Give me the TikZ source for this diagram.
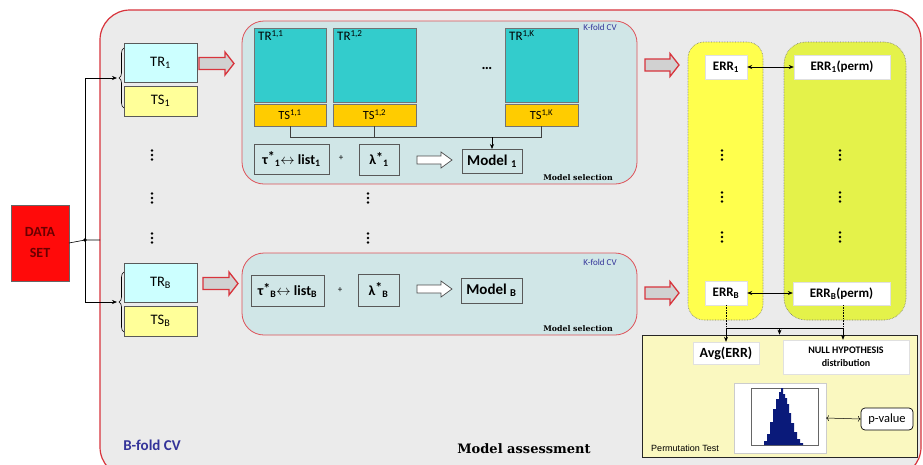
\documentclass[tikz,border=0pt]{standalone}
\usepackage{fontspec}
\setmainfont{Carlito}
\newfontfamily\slabfont{DejaVu Serif}
\newfontfamily\arialfont{Liberation Sans}
\usetikzlibrary{arrows.meta,decorations.pathreplacing,calc}
\definecolor{framered}{HTML}{D8343C}
\definecolor{framebg}{HTML}{EBEBEB}
\definecolor{kbg}{HTML}{D0E6E7}
\definecolor{tealbox}{HTML}{33CCCC}
\definecolor{goldbox}{HTML}{FFCC00}
\definecolor{trc}{HTML}{CCFFFF}
\definecolor{tsc}{HTML}{FFFF99}
\definecolor{ycolc}{HTML}{FFFF4D}
\definecolor{gcolc}{HTML}{E4F24A}
\definecolor{permbg}{HTML}{FAF8C0}
\definecolor{navyt}{HTML}{333399}
\definecolor{histblue}{HTML}{0A1A7A}
\definecolor{dsred}{HTML}{FF0A0A}
\definecolor{dstext}{HTML}{6A0000}
% hollow block arrow: style, x0, cy, total length, head length, body half, head half
\newcommand\blockarrow[7]{%
  \draw[#1] ({#2},{#3-#6}) -- ({#2+#4-#5},{#3-#6}) -- ({#2+#4-#5},{#3-#7})
    -- ({#2+#4},{#3}) -- ({#2+#4-#5},{#3+#7}) -- ({#2+#4-#5},{#3+#6})
    -- ({#2},{#3+#6}) -- cycle;}
\newcommand\dotcol[2]{%
  \fill ({#1},{#2-4.5}) circle (1.4);
  \fill ({#1},{#2}) circle (1.4);
  \fill ({#1},{#2+4.5}) circle (1.4);}
\newcommand\strs{\raisebox{2.5pt}{*}}
\begin{document}
\begin{tikzpicture}[x=1pt,y=-1pt,
  sbox/.style={draw=black!65, line width=0.7pt, inner sep=0pt, outer sep=0pt},
  wbox/.style={fill=white, draw=black!12, line width=0.4pt, inner sep=0pt},
  kbox/.style={draw=framered!85, line width=0.8pt, fill=kbg, rounded corners=22pt, inner sep=0pt},
  colbox/.style={draw=black!55, densely dotted, line width=0.6pt, rounded corners=16pt, inner sep=0pt},
  arr/.style={-{Stealth[length=5pt,width=4pt]}, line width=0.6pt},
  darr/.style={{Stealth[length=5pt,width=4pt]}-{Stealth[length=5pt,width=4pt]}, line width=0.6pt},
  redarrow/.style={draw=framered, line width=1.3pt, fill=black!18},
  whitearrow/.style={draw=black!70, line width=0.7pt, fill=white},
  bigtxt/.style={font=\bfseries\fontsize{14}{14}\selectfont},
  toplbl/.style={anchor=north west, inner sep=1pt, font=\fontsize{13}{13}\selectfont},
  tstxt/.style={font=\fontsize{12.5}{12.5}\selectfont},
]
\useasboundingbox (0,0) rectangle (923,464);
\fill[white] (0,0) rectangle (923,464);
\begin{scope}
  \clip (0,0) rectangle (923,464);
  \draw[draw=framered, line width=1.2pt, fill=framebg, rounded corners=30pt] (100,10) rectangle (921,477);
\end{scope}

% data set and split
\node[sbox, fill=dsred, draw=black!60, minimum width=58, minimum height=76,
      font=\bfseries\fontsize{14}{21}\selectfont, text=dstext, align=center] (data) at (40,243) {DATA\\SET};
\coordinate (jn) at (85,240);
\coordinate (fw) at (100,240);
\coordinate (b1) at (117,78);
\coordinate (bB) at (117,302);
\draw[line width=0.6pt] (data.east) -- (jn) -- (fw);
\fill (jn) circle (1.8);
\draw[arr] (jn) |- (b1);
\draw[arr] (jn) |- (bB);
\draw[line width=0.6pt, decorate, decoration={brace, amplitude=5pt}] (124,108) -- (124,48);
\draw[line width=0.6pt, decorate, decoration={brace, amplitude=5pt}] (124,332) -- (124,272);

\node[sbox, fill=trc, minimum width=73, minimum height=39, font=\fontsize{14.5}{14}\selectfont] (tr1) at (160.5,62.5) {TR\textsubscript{1}};
\node[sbox, fill=tsc, minimum width=73, minimum height=30, font=\fontsize{14.5}{14}\selectfont] (ts1) at (160.5,101) {TS\textsubscript{1}};
\node[sbox, fill=trc, minimum width=73, minimum height=39, font=\fontsize{14.5}{14}\selectfont] (trB) at (160.5,282.5) {TR\textsubscript{B}};
\node[sbox, fill=tsc, minimum width=73, minimum height=30, font=\fontsize{14.5}{14}\selectfont] (tsB) at (160.5,321) {TS\textsubscript{B}};

\dotcol{152}{155}
\dotcol{152}{198}
\dotcol{152}{238}
\dotcol{368}{198}
\dotcol{368}{238}

% red block arrows
\blockarrow{redarrow}{199}{63.5}{35}{9}{6}{11.5}
\blockarrow{redarrow}{203}{283.5}{35}{9}{6}{11.5}
\blockarrow{redarrow}{645}{65}{34}{9}{6}{11.5}
\blockarrow{redarrow}{645}{293}{34}{9}{6}{11.5}

% top K-fold box
\node[kbox, minimum width=395, minimum height=163] (k1) at (439.5,102.5) {};
\node[font=\fontsize{9}{9}\selectfont, text=navyt, inner sep=0pt] (kl1) at (600,27) {K-fold CV};
\node[font=\slabfont\bfseries\fontsize{7.8}{8}\selectfont, inner sep=0pt] (ms1) at (578,178) {Model selection};

\node[sbox, draw=black!55, fill=tealbox, minimum width=72, minimum height=74] (tr11) at (290,65) {};
\node[sbox, draw=black!55, fill=tealbox, minimum width=83, minimum height=74] (tr12) at (374.5,65) {};
\node[sbox, draw=black!55, fill=tealbox, minimum width=73, minimum height=74] (tr1K) at (541.5,65) {};
\node[toplbl] at ([shift={(3,1)}]tr11.north west) {TR\textsuperscript{1,1}};
\node[toplbl] at ([shift={(3,1)}]tr12.north west) {TR\textsuperscript{1,2}};
\node[toplbl] at ([shift={(3,1)}]tr1K.north west) {TR\textsuperscript{1,K}};
\node[font=\bfseries\fontsize{15}{15}\selectfont, inner sep=0pt] (ell) at (487,68) {…};
\node[sbox, draw=black!55, fill=goldbox, minimum width=72, minimum height=22, tstxt] (ts11) at (290,115) {TS\textsuperscript{1,1}};
\node[sbox, draw=black!55, fill=goldbox, minimum width=83, minimum height=22, tstxt] (ts12) at (374.5,115) {TS\textsuperscript{1,2}};
\node[sbox, draw=black!55, fill=goldbox, minimum width=73, minimum height=22, tstxt] (ts1K) at (541.5,115) {TS\textsuperscript{1,K}};

\node[sbox, fill=kbg, minimum width=75, minimum height=30, bigtxt] (tau1) at (291.5,159) {τ\strs\textsubscript{1}$\leftrightarrow$ list\textsubscript{1}};
\node[font=\fontsize{9}{9}\selectfont, inner sep=0pt] (pl1) at (341,158) {+};
\node[sbox, fill=kbg, minimum width=40, minimum height=31, bigtxt] (lam1) at (379,159.5) {λ\strs\textsubscript{1}};
\blockarrow{whitearrow}{417}{160}{35}{11}{4}{8}
\node[sbox, fill=kbg, minimum width=60, minimum height=24, font=\bfseries\fontsize{15}{15}\selectfont] (m1) at (492,161) {Model \textsubscript{1}};

\coordinate (bus) at (0,137);
\draw[line width=0.6pt, black!75] (ts11.south) |- (ts1K.south |- bus) -- (ts1K.south);
\draw[line width=0.6pt, black!75] (ts12.south) -- (ts12.south |- bus);
\draw[arr] (m1.north |- bus) -- (m1.north);

% bottom K-fold box
\node[kbox, minimum width=395, minimum height=82] (kB) at (439.5,294) {};
\node[font=\fontsize{9}{9}\selectfont, text=navyt, inner sep=0pt] (klB) at (600,262) {K-fold CV};
\node[font=\slabfont\bfseries\fontsize{7.8}{8}\selectfont, inner sep=0pt] (msB) at (578,329) {Model selection};
\node[sbox, fill=kbg, minimum width=73, minimum height=31, bigtxt] (tauB) at (287.5,290.5) {τ\strs\textsubscript{B}$\leftrightarrow$ list\textsubscript{B}};
\node[font=\fontsize{9}{9}\selectfont, inner sep=0pt] (plB) at (340,290) {+};
\node[sbox, fill=kbg, minimum width=41, minimum height=32, bigtxt] (lamB) at (378.5,290) {λ\strs\textsubscript{B}};
\blockarrow{whitearrow}{417}{289}{35}{11}{4}{8}
\node[sbox, fill=kbg, minimum width=61, minimum height=25, font=\bfseries\fontsize{15}{15}\selectfont] (mB) at (491.5,290.5) {Model \textsubscript{B}};

% error columns
\node[colbox, fill=ycolc, minimum width=75, minimum height=278] (yc) at (725.5,181) {};
\node[colbox, fill=gcolc, minimum width=122, minimum height=278, rounded corners=22pt] (gc) at (845,181) {};
\node[wbox, minimum width=42, minimum height=24, font=\bfseries\fontsize{13}{13}\selectfont] (e1) at (726,67) {ERR\textsubscript{1}};
\node[wbox, minimum width=96, minimum height=24, font=\bfseries\fontsize{13}{13}\selectfont] (e1p) at (842,67) {ERR\textsubscript{1}(perm)};
\node[wbox, minimum width=42, minimum height=24, font=\bfseries\fontsize{13}{13}\selectfont] (eB) at (726,293) {ERR\textsubscript{B}};
\node[wbox, minimum width=97, minimum height=23, font=\bfseries\fontsize{13}{13}\selectfont] (eBp) at (841.5,293.5) {ERR\textsubscript{B}(perm)};
\draw[darr] (e1.east) -- (e1p.west);
\draw[darr] (eB.east) -- (eBp.west |- eB.east);
\dotcol{722}{155}
\dotcol{722}{197}
\dotcol{722}{237}
\dotcol{840}{155}
\dotcol{840}{197}
\dotcol{840}{237}

% permutation test
\node[draw=black!85, line width=0.8pt, fill=permbg, minimum width=275, minimum height=122, inner sep=0pt] (pt) at (779.5,396) {};
\node[wbox, minimum width=66, minimum height=22, font=\bfseries\fontsize{14}{14}\selectfont] (avg) at (726,353) {Avg(ERR)};
\node[wbox, minimum width=126, minimum height=34, align=center, font=\bfseries\fontsize{10}{13}\selectfont] (null) at (846,357) {NULL HYPOTHESIS\\distribution};
\coordinate (ebus) at (0,328);
\draw[densely dotted, line width=0.6pt] (eB.south) -- (eB.south |- ebus);
\draw[densely dotted, line width=0.6pt] ([xshift=1.5pt]eBp.south) -- ([xshift=1.5pt]eBp.south |- ebus);
\draw[line width=0.9pt] (eB.south |- ebus) -- ([xshift=1.5pt]eBp.south |- ebus);
\draw[arr] (eB.south |- ebus) -- (avg.north);
\draw[arr] ([xshift=1.5pt]eBp.south |- ebus) -- ([xshift=1.5pt]eBp.south |- null.north);
\draw[arr] (pt.north |- ebus) -- (pt.north);

\node[fill=white, draw=black!20, line width=0.4pt, minimum width=92, minimum height=70, inner sep=0pt] (hist) at (780,418) {};
\draw[black!60, line width=0.3pt] (751,388) rectangle (818,445);
\fill[histblue] (764,445) -- (764,441) -- (767,441) -- (767,434) -- (770,434) -- (770,422) -- (773,422) -- (773,409) -- (776,409) -- (776,399) -- (779,399) -- (779,392) -- (781,392) -- (781,388) -- (783,388) -- (783,394) -- (785,394) -- (785,398) -- (787,398) -- (787,404) -- (789,404) -- (789,413) -- (791,413) -- (791,423) -- (794,423) -- (794,432) -- (797,432) -- (797,439) -- (800,439) -- (800,443) -- (803,443) -- (803,445) -- cycle;
\node[draw=black, line width=0.7pt, rounded corners=4pt, fill=white, minimum width=52, minimum height=22, inner sep=0pt, font=\fontsize{12.5}{13}\selectfont] (pv) at (887,419) {p-value};
\draw[<->, line width=0.5pt] (hist.east) -- (pv.west);
\node[font=\arialfont\fontsize{9}{9}\selectfont, inner sep=0pt] (ptl) at (685,448) {Permutation Test};

\node[font=\bfseries\fontsize{15}{15}\selectfont, text=navyt, inner sep=0pt] (bcv) at (152,445) {B-fold CV};
\node[font=\slabfont\bfseries\fontsize{13}{13}\selectfont, inner sep=0pt] (ma) at (524,449) {Model assessment};
\end{tikzpicture}
\end{document}
